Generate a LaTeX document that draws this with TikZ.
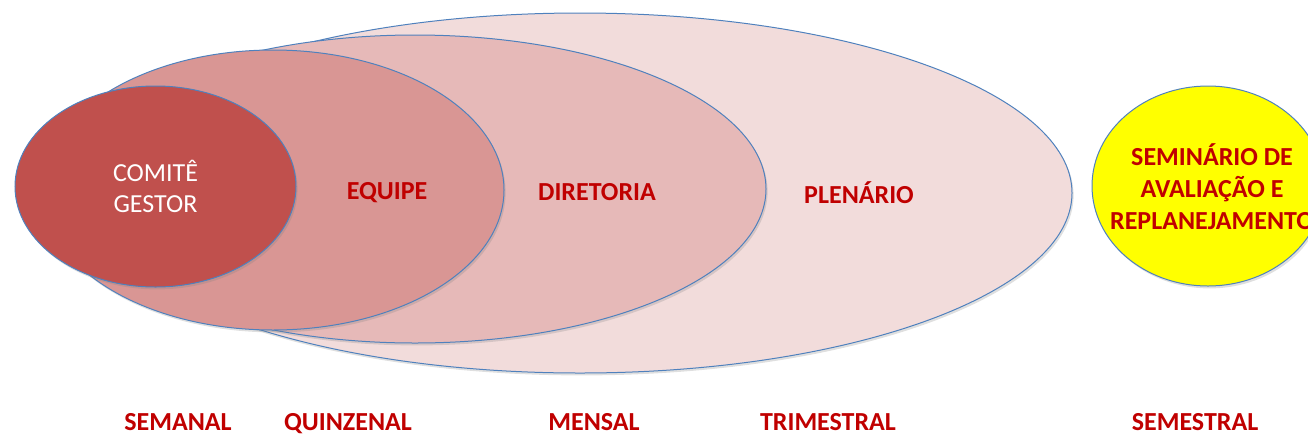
\documentclass[tikz,border=0pt]{standalone}
\usepackage{fontspec}
\setmainfont{Carlito}
\usetikzlibrary{shapes.geometric,shadows}

\definecolor{rimblue}{HTML}{4F81BD}
\definecolor{tagred}{HTML}{C00000}
\definecolor{comitefill}{HTML}{C0504D}
\definecolor{equipefill}{HTML}{D99694}
\definecolor{diretfill}{HTML}{E6B9B8}
\definecolor{plenfill}{HTML}{F2DCDB}
\definecolor{semfill}{HTML}{FFFF00}

\tikzset{
  ring/.style={ellipse, draw=rimblue, line width=0.75pt, inner sep=0pt,
    drop shadow={shadow xshift=1.2pt, shadow yshift=-1.8pt, opacity=0.25}},
  tag/.style={font=\fontsize{19.5}{24}\selectfont\bfseries, text=tagred,
    align=center, inner sep=0pt},
  period/.style={tag, anchor=base},
}

\begin{document}
\begin{tikzpicture}[x=0.75pt,y=-0.75pt]
  \useasboundingbox (0,0) rectangle (1308,436);

  % nested circles of meetings
  \node[ring, fill=plenfill, minimum width=738pt, minimum height=270pt] (plenario) at (580,193) {};
  \node[ring, fill=diretfill, minimum width=526.5pt, minimum height=231pt] (diretoria) at (415,189) {};
  \node[ring, fill=equipefill, minimum width=346.5pt, minimum height=210pt] (equipe) at (273,190) {};
  \node[ring, fill=comitefill, minimum width=210.75pt, minimum height=150.75pt] (comite) at (155.5,186.5) {};
  \node[ring, fill=semfill, minimum width=174pt, minimum height=150pt] (seminario) at (1208,186) {};

  % names
  \node[tag, font=\fontsize{19.5}{23.4}\selectfont, text=white] (comitetxt) at (comite.center) {COMITÊ\\GESTOR};
  \node[period] (equipetxt) at (387,199) {EQUIPE};
  \node[period] (diretoriatxt) at (597,200) {DIRETORIA};
  \node[period] (plenariotxt) at (859,203) {PLENÁRIO};
  \node[tag] (seminariotxt) at (1212,187) {SEMINÁRIO DE\\AVALIAÇÃO E\\REPLANEJAMENTO};

  % periods
  \node[period] (semanal) at (178,430) {SEMANAL};
  \node[period] (quinzenal) at (348,430) {QUINZENAL};
  \node[period] (mensal) at (594,430) {MENSAL};
  \node[period] (trimestral) at (828,430) {TRIMESTRAL};
  \node[period] (semestral) at (1195,430) {SEMESTRAL};
\end{tikzpicture}
\end{document}
